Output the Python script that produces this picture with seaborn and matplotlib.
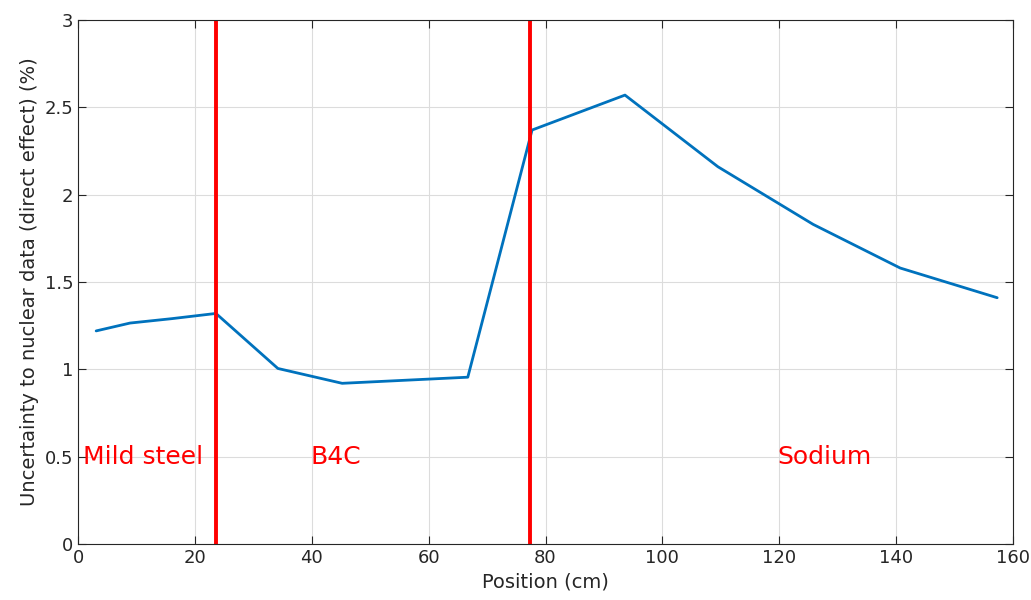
import matplotlib
matplotlib.use("Agg")
import matplotlib.pyplot as plt
import seaborn as sns
import pandas as pd

position_cm = [3.1, 8.9, 16.0, 23.6, 34.2, 45.2, 66.7, 77.7, 93.6, 109.5, 125.8, 140.7, 157.3]
uncertainty_pct = [1.22, 1.265, 1.29, 1.32, 1.005, 0.92, 0.955, 2.37, 2.57, 2.16, 1.83, 1.58, 1.41]
boundaries = [23.6, 77.4]
region_labels = ["Mild steel", "B4C", "Sodium"]
region_label_x = [0.8, 39.7, 119.6]
region_label_y = 0.5

sns.set_theme(style="whitegrid")
plt.rcParams['font.family'] = ['DejaVu Sans']

df = pd.DataFrame({"Position (cm)": position_cm, "Uncertainty": uncertainty_pct})

fig = plt.figure(figsize=(10.31, 6.0), dpi=100)
ax = fig.add_axes([0.0757, 0.0933, 0.9068, 0.8734])
sns.lineplot(data=df, x="Position (cm)", y="Uncertainty", ax=ax, color="#0072BD", linewidth=2)
for b in boundaries:
    ax.axvline(b, color="#FF0000", linewidth=2.8)
for lab, lx in zip(region_labels, region_label_x):
    ax.text(lx, region_label_y, lab, color="#FF0000", fontsize=18, va="center", ha="left")

ax.set_xlim(0, 160)
ax.set_ylim(0, 3)
ax.set_xticks(range(0, 161, 20))
ax.set_yticks([0, 0.5, 1, 1.5, 2, 2.5, 3])
ax.set_yticklabels(["0", "0.5", "1", "1.5", "2", "2.5", "3"])
ax.set_xlabel("Position (cm)", fontsize=14, color="#262626")
ax.set_ylabel("Uncertainty to nuclear data (direct effect) (%)", fontsize=14, color="#262626")
ax.grid(True, color="#DCDCDC", linewidth=0.8)
for s in ax.spines.values():
    s.set_visible(True)
    s.set_color("#262626")
    s.set_linewidth(0.8)
ax.tick_params(axis="both", which="both", direction="in", length=6, width=0.8, color="#262626",
               labelsize=13, labelcolor="#262626", top=True, right=True, bottom=True, left=True,
               labeltop=False, labelright=False)
fig.savefig("out.png", dpi=100)
